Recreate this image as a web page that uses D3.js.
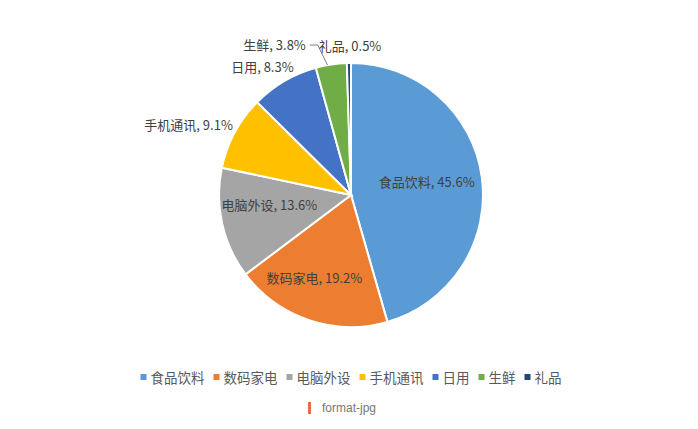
<!DOCTYPE html>
<html>
<head>
<meta charset="utf-8">
<script src="https://cdn.jsdelivr.net/npm/d3@7"></script>
<style>
  html, body { margin: 0; padding: 0; background: #fff; }
  svg { display: block; }
</style>
</head>
<body>
<div id="chart"></div>
<script>
// Chart size
const width = 698;
const height = 429;

const fontFamily = "'Noto Sans CJK SC', 'Noto Sans', sans-serif";

// Data
const categories = ["食品饮料", "数码家电", "电脑外设", "手机通讯", "日用", "生鲜", "礼品"];
const values = [45.6, 19.2, 13.6, 9.1, 8.3, 3.8, 0.5];
const colors = ["#5B9BD5", "#ED7D31", "#A5A5A5", "#FFC000", "#4472C4", "#70AD47", "#264478"];

// Layout of the pie
const cx = 351;
const cy = 195;
const radius = 132;

// Labels that sit outside the pie (the rest go inside)
const outsideLabels = new Set(["手机通讯", "日用", "生鲜", "礼品"]);
// Small nudges to mimic Excel's label placement
const labelNudge = {
    "食品饮料": [-4, -2],
    "数码家电": [-11, 6],
    "电脑外设": [-3, -8],
    "手机通讯": [6, -4],
    "日用": [14, -7],
    "生鲜": [-24, -11],
    "礼品": [-30, -9]
};

const svg = d3.select("#chart")
    .append("svg")
    .attr("width", width)
    .attr("height", height);

const pie = d3.pie().sort(null).value(d => d.value);
const arcs = pie(categories.map((c, i) => ({ name: c, value: values[i], color: colors[i] })));

const arc = d3.arc().innerRadius(0).outerRadius(radius);
const innerLabelArc = d3.arc().innerRadius(radius * 0.61).outerRadius(radius * 0.61);
const outerLabelArc = d3.arc().innerRadius(radius + 9).outerRadius(radius + 9);

const g = svg.append("g").attr("transform", `translate(${cx},${cy})`);

// Slices
g.selectAll("path")
    .data(arcs)
    .enter()
    .append("path")
    .attr("d", arc)
    .attr("fill", d => d.data.color)
    .attr("stroke", "#fff")
    .attr("stroke-width", 2);

// Labels
arcs.forEach(d => {
    const name = d.data.name;
    const nudge = labelNudge[name] || [0, 0];
    const outside = outsideLabels.has(name);
    const p = outside ? outerLabelArc.centroid(d) : innerLabelArc.centroid(d);
    const x = p[0] + nudge[0];
    const y = p[1] + nudge[1];
    let anchor = outside ? "end" : "middle";
    if (name === "礼品") anchor = "start";

    // Leader line for the tiny slice
    if (name === "礼品") {
        const lx = x - 1;
        const len = Math.hypot(lx, y);
        const ex = lx / len * radius;
        const ey = y / len * radius;
        g.append("path")
            .attr("d", `M${lx - 8},${y} L${lx},${y} L${ex + 5},${ey - 1}`)
            .attr("fill", "none")
            .attr("stroke", "#7f7f7f")
            .attr("stroke-width", 1);
    }

    g.append("text")
        .attr("x", x)
        .attr("y", y)
        .attr("text-anchor", anchor)
        .attr("dominant-baseline", "central")
        .attr("fill", "#404040")
        .attr("font-family", fontFamily)
        .attr("font-size", "13px")
        .text(name + ", " + d.data.value + "%");
});

// Legend
const legend = svg.append("g");
const legendY = 377;
let lx = 0;
categories.forEach((c, i) => {
    const item = legend.append("g");
    item.append("rect")
        .attr("x", 0)
        .attr("y", -3)
        .attr("width", 6)
        .attr("height", 6)
        .attr("fill", colors[i]);
    const txt = item.append("text")
        .attr("x", 10)
        .attr("y", 0)
        .attr("dominant-baseline", "central")
        .attr("fill", "#595959")
        .attr("font-family", fontFamily)
        .attr("font-size", "13.5px")
        .text(c);
    const w = 10 + txt.node().getComputedTextLength();
    item.attr("transform", `translate(${lx},0)`);
    lx += w + 9;
});
const legendWidth = lx - 9;
legend.attr("transform", `translate(${cx - legendWidth / 2},${legendY})`);

// Caption under the legend
const caption = svg.append("g").attr("transform", `translate(${cx},408)`);
caption.append("rect")
    .attr("x", -43)
    .attr("y", -6)
    .attr("width", 3)
    .attr("height", 12)
    .attr("fill", "#E8684A");
caption.append("text")
    .attr("x", -29)
    .attr("y", 0)
    .attr("dominant-baseline", "central")
    .attr("fill", "#777")
    .attr("font-family", "'Liberation Sans', Arial, sans-serif")
    .attr("font-size", "12px")
    .text("format-jpg");
</script>
</body>
</html>
